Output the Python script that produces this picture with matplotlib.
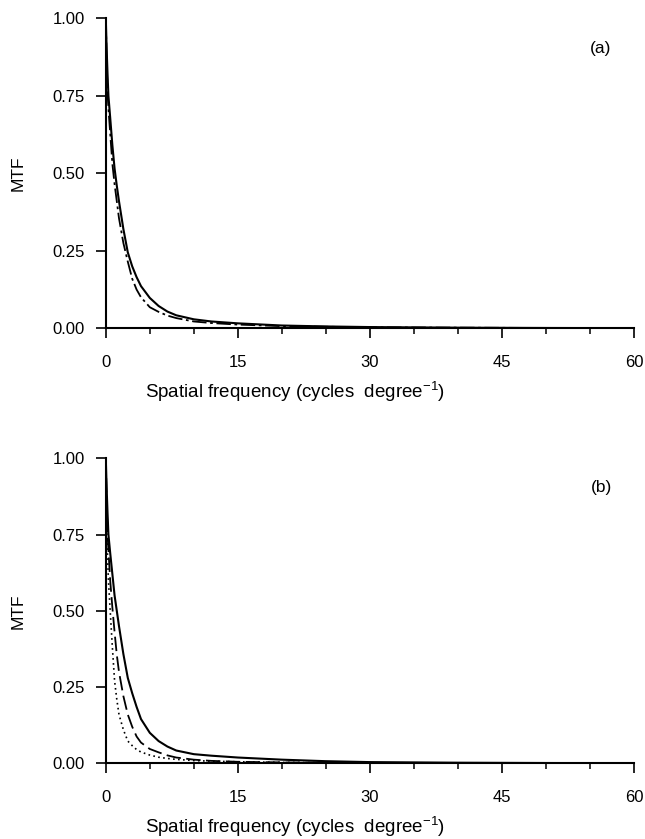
import numpy as np
import matplotlib
matplotlib.use('Agg')
import matplotlib.pyplot as plt
from matplotlib.ticker import MultipleLocator

plt.rcParams['font.family'] = ['Liberation Sans', 'DejaVu Sans']
plt.rcParams['mathtext.fontset'] = 'custom'
plt.rcParams['mathtext.rm'] = 'Liberation Sans'
plt.rcParams['mathtext.default'] = 'regular'

# spatial frequency (cycles/degree)
freq = [0, 0.1, 0.2, 0.3, 0.5, 0.75, 1, 1.25, 1.5, 2, 2.5, 3, 3.5, 4, 5, 6, 7, 8,
        10, 12, 15, 20, 25, 30, 40, 50, 60]

# panel (a)
mtf_a_solid = [1.0, 0.9, 0.82, 0.75, 0.68, 0.59, 0.515, 0.46, 0.41, 0.32, 0.245, 0.2, 0.165,
               0.136, 0.098, 0.072, 0.054, 0.042, 0.029, 0.022, 0.016, 0.009, 0.006, 0.004,
               0.002, 0.001, 0.0005]
mtf_a_dashdot = [1.0, 0.87, 0.76, 0.71, 0.63, 0.53, 0.465, 0.41, 0.355, 0.275, 0.215, 0.16,
                 0.125, 0.1, 0.068, 0.053, 0.041, 0.033, 0.022, 0.017, 0.012, 0.007, 0.005,
                 0.003, 0.002, 0.001, 0.0005]

# panel (b)
mtf_b_solid = [1.0, 0.9, 0.82, 0.75, 0.69, 0.62, 0.55, 0.5, 0.45, 0.358, 0.28, 0.23, 0.185,
               0.145, 0.1, 0.073, 0.055, 0.042, 0.03, 0.025, 0.019, 0.012, 0.007, 0.004,
               0.002, 0.001, 0.0005]
mtf_b_dashed = [1.0, 0.87, 0.75, 0.7, 0.6, 0.51, 0.43, 0.356, 0.3, 0.22, 0.16, 0.12, 0.088,
                0.068, 0.047, 0.036, 0.026, 0.019, 0.012, 0.008, 0.005, 0.003, 0.002, 0.001,
                0.0005, 0.0003, 0.0002]
mtf_b_dotted = [1.0, 0.77, 0.68, 0.6, 0.5, 0.38, 0.27, 0.21, 0.16, 0.11, 0.073, 0.058, 0.045,
                0.037, 0.027, 0.02, 0.016, 0.013, 0.009, 0.007, 0.005, 0.003, 0.002, 0.001,
                0.0005, 0.0003, 0.0002]

fig = plt.figure(figsize=(6.45, 8.39), dpi=100)
ax1 = fig.add_axes([0.164, 0.6087, 0.819, 0.3695])
ax2 = fig.add_axes([0.164, 0.0902, 0.819, 0.3636])

ax1.plot(freq, mtf_a_solid, color='black', lw=1.5)
ax1.plot(freq, mtf_a_dashdot, color='black', lw=1.3, dashes=(8, 2, 1.5, 2))

ax2.plot(freq, mtf_b_solid, color='black', lw=1.5)
ax2.plot(freq, mtf_b_dashed, color='black', lw=1.3, dashes=(8, 3))
ax2.plot(freq, mtf_b_dotted, color='black', lw=1.2, dashes=(1, 2))

for ax, lab in [(ax1, '(a)'), (ax2, '(b)')]:
    ax.set_xlim(0, 60)
    ax.set_ylim(0, 1.0)
    ax.xaxis.set_major_locator(MultipleLocator(15))
    ax.xaxis.set_minor_locator(MultipleLocator(5))
    ax.yaxis.set_major_locator(MultipleLocator(0.25))
    ax.yaxis.set_major_formatter(plt.FormatStrFormatter('%.2f'))
    ax.spines['top'].set_visible(False)
    ax.spines['right'].set_visible(False)
    ax.spines['left'].set_linewidth(1.5)
    ax.spines['bottom'].set_linewidth(1.5)
    ax.tick_params(axis='x', which='major', direction='out', length=7, width=1.2,
                   labelsize=12, pad=12)
    ax.tick_params(axis='x', which='minor', direction='out', length=4, width=1.1)
    ax.tick_params(axis='y', direction='out', length=7, width=1.2, labelsize=12, pad=8)
    ax.set_ylabel('MTF', fontsize=12.5)
    ax.yaxis.set_label_coords(-0.152, 0.5)
    ax.set_xlabel('Spatial frequency (cycles  degree$^{-1}$)', fontsize=13.5)
    ax.text(0.9375, 0.903, lab, transform=ax.transAxes, fontsize=12.5,
            ha='center', va='center')

ax1.xaxis.set_label_coords(0.358, -0.168)
ax2.xaxis.set_label_coords(0.358, -0.168)

fig.savefig('out.png', dpi=100)
